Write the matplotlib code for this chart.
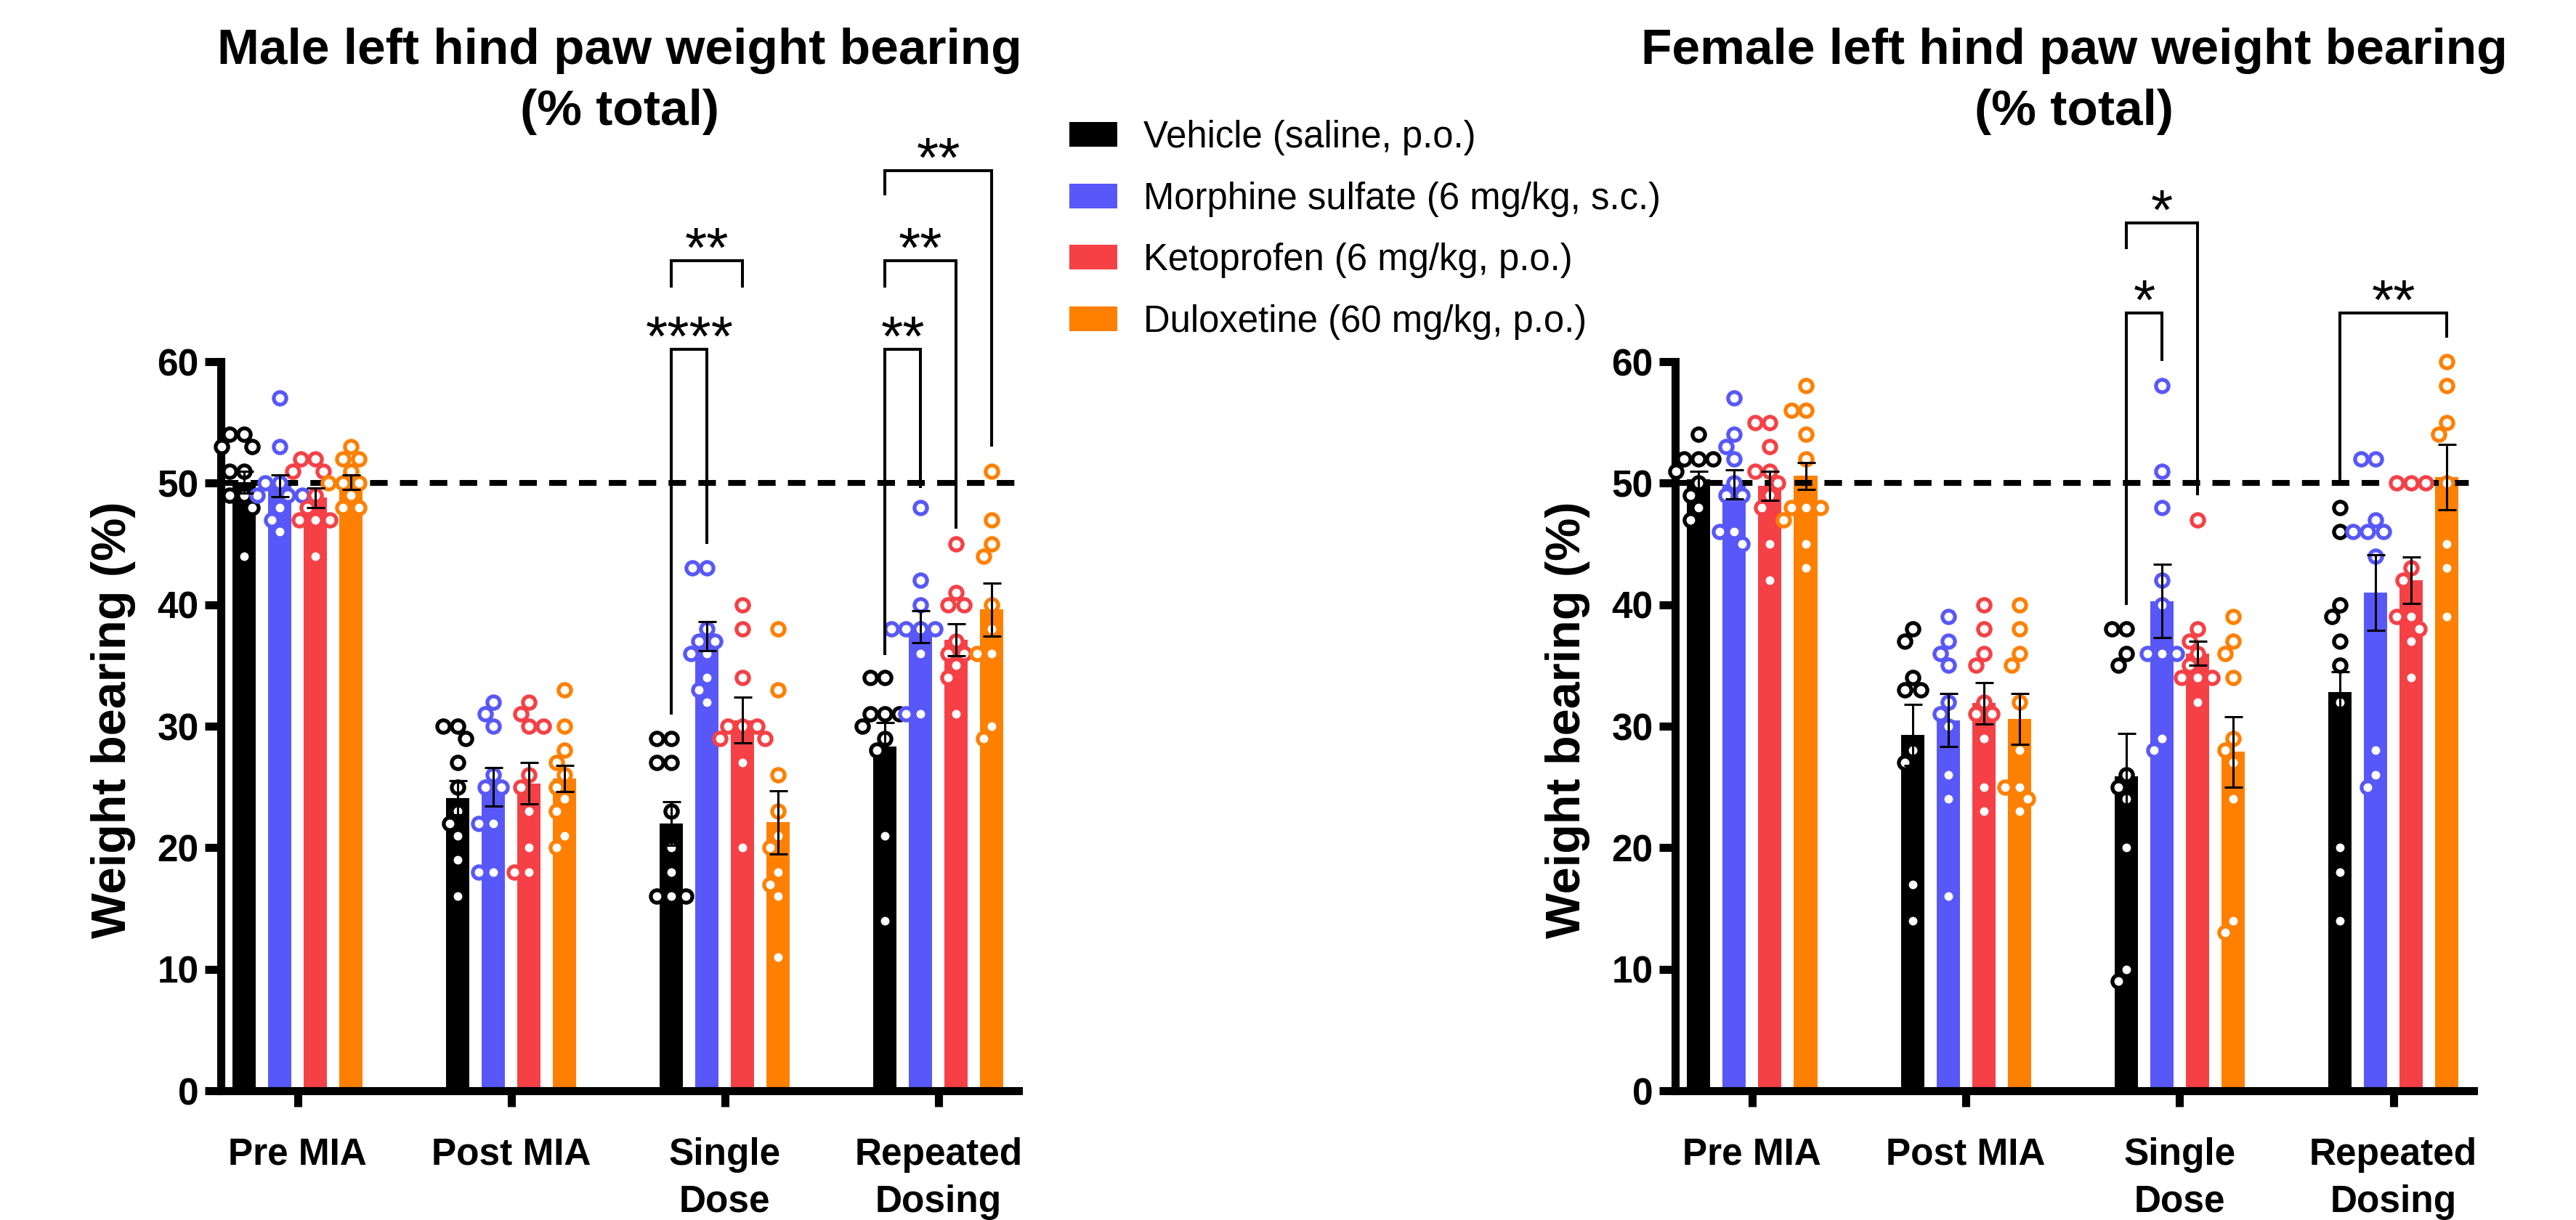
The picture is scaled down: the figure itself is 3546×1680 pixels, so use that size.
import numpy as np
import matplotlib
matplotlib.use("Agg")
import matplotlib.pyplot as plt
from matplotlib.patches import Patch

plt.rcParams['font.family'] = ['Liberation Sans', 'DejaVu Sans']

# ---------------- data ----------------
categories = ['Pre MIA', 'Post MIA', 'Single\nDose', 'Repeated\nDosing']
treatments = ['Vehicle (saline, p.o.)', 'Morphine sulfate (6 mg/kg, s.c.)',
              'Ketoprofen (6 mg/kg, p.o.)', 'Duloxetine (60 mg/kg, p.o.)']
yticks = [0, 10, 20, 30, 40, 50, 60]
baseline_pct = 50

# Male: means and SEM per treatment (rows) x timepoint (cols)
male_mean = [[50.1, 24.1, 22.0, 28.3],
             [49.8, 25.0, 37.4, 38.2],
             [48.8, 25.3, 30.5, 37.1],
             [50.1, 25.7, 22.1, 39.6]]
male_sem = [[0.9, 1.4, 1.8, 2.0],
            [0.9, 1.6, 1.2, 1.3],
            [0.8, 1.7, 1.9, 1.3],
            [0.6, 1.1, 2.6, 2.2]]
# individual animals, male
male_v_pts = [[54, 54, 53, 53, 51, 51, 49, 49, 48, 44],
              [30, 30, 29, 27, 25, 23, 22, 21, 19, 16],
              [29, 29, 27, 27, 23, 20, 18, 16, 16, 16],
              [34, 34, 31, 31, 31, 30, 29, 28, 21, 14]]
male_m_pts = [[57, 53, 50, 50, 49, 49, 49, 48, 47, 46],
              [32, 31, 30, 26, 25, 25, 22, 22, 18, 18],
              [43, 43, 38, 37, 37, 36, 36, 34, 33, 32],
              [48, 42, 40, 38, 38, 38, 38, 36, 31, 31]]
male_k_pts = [[52, 52, 51, 51, 49, 48, 47, 47, 47, 44],
              [32, 31, 30, 30, 26, 25, 23, 20, 18, 18],
              [40, 38, 34, 30, 30, 30, 29, 29, 27, 20],
              [45, 41, 40, 40, 37, 36, 36, 35, 34, 31]]
male_d_pts = [[53, 52, 52, 51, 50, 50, 50, 49, 48, 48],
              [33, 30, 28, 27, 26, 25, 24, 23, 21, 20],
              [38, 33, 26, 23, 21, 20, 18, 17, 16, 11],
              [51, 47, 45, 44, 40, 38, 36, 36, 30, 29]]

# Female
female_mean = [[50.3, 29.3, 25.9, 32.8],
               [49.9, 30.5, 40.3, 41.0],
               [49.8, 31.9, 36.0, 42.0],
               [50.6, 30.6, 27.9, 50.5]]
female_sem = [[0.7, 2.5, 3.5, 1.7],
              [1.2, 2.2, 3.0, 3.1],
              [1.2, 1.7, 1.0, 1.9],
              [1.1, 2.1, 2.9, 2.7]]
female_v_pts = [[54, 52, 52, 52, 51, 50, 49, 48, 47],
                [38, 37, 34, 33, 33, 28, 27, 17, 14],
                [38, 38, 36, 35, 26, 25, 24, 20, 10, 9],
                [48, 46, 40, 39, 37, 35, 32, 20, 18, 14]]
female_m_pts = [[57, 54, 53, 52, 50, 49, 49, 46, 46, 45],
                [39, 37, 36, 35, 32, 31, 30, 26, 24, 16],
                [58, 51, 48, 42, 40, 36, 36, 36, 29, 28],
                [52, 52, 47, 46, 46, 46, 44, 28, 26, 25]]
female_k_pts = [[55, 55, 53, 51, 51, 50, 49, 48, 45, 42],
                [40, 38, 36, 35, 32, 31, 31, 29, 25, 23],
                [47, 38, 37, 36, 35, 34, 34, 34, 32],
                [50, 50, 50, 43, 42, 39, 39, 38, 37, 34]]
female_d_pts = [[58, 56, 56, 54, 52, 48, 48, 48, 47, 45, 43],
                [40, 38, 36, 35, 32, 28, 25, 25, 24, 23],
                [39, 37, 36, 34, 29, 28, 27, 24, 14, 13],
                [60, 58, 55, 54, 50, 45, 43, 39]]

# significance brackets: (timepoint, treatment a, treatment b, bracket height,
#                         left leg end, right leg end, label)
male_sig = [(2, 0, 1, 61.0, 31.1, 45.1, '****'),
            (2, 0, 2, 68.3, 66.2, 66.2, '**'),
            (3, 0, 1, 61.0, 36.0, 49.7, '**'),
            (3, 0, 2, 68.3, 66.2, 46.4, '**'),
            (3, 0, 3, 75.7, 73.8, 53.1, '**')]
female_sig = [(2, 0, 1, 64.0, 40.1, 60.2, '*'),
              (2, 0, 2, 71.4, 69.4, 49.1, '*'),
              (3, 0, 3, 64.0, 50.1, 62.1, '**')]

male_title = 'Male left hind paw weight bearing\n(% total)'
female_title = 'Female left hind paw weight bearing\n(% total)'
ylabel = 'Weight bearing (%)'

# ---------------- style ----------------
COLORS = ['#000000', '#5858F8', '#F54146', '#FF8000']
W_PX, H_PX, DPI = 3546, 1680, 200
BAR_STEP = 0.1667
BAR_W = 0.109
SPINE_LW = 4.0

fig = plt.figure(figsize=(W_PX / DPI, H_PX / DPI), dpi=DPI)
ax_m = fig.add_axes([304 / W_PX, 1 - 1502 / H_PX, 1098 / W_PX, 1004 / H_PX])
ax_f = fig.add_axes([2306 / W_PX, 1 - 1502 / H_PX, 1099 / W_PX, 1004 / H_PX])


def swarm(vals, xpx, ypx, d_px=20.0):
    placed = []
    out = np.zeros(len(vals))
    order = sorted(range(len(vals)), key=lambda i: -vals[i])
    for i in order:
        y = vals[i] * ypx
        forb = []
        for px, py in placed:
            dy = abs(py - y)
            if dy < d_px:
                w = np.sqrt(d_px ** 2 - dy ** 2)
                forb.append((px - w, px + w))
        cands = [0.0] + [a for a, b in forb] + [b for a, b in forb]
        cands.sort(key=lambda c: (abs(c), c))
        chosen = 0.0
        for c in cands:
            if all(not (a + 1e-6 < c < b - 1e-6) for a, b in forb):
                chosen = c
                break
        placed.append((chosen, y))
        out[i] = chosen / xpx
    return out


def draw_panel(ax, means, sems, pts_list, sig, title):
    ax.set_xlim(-0.36, 3.375)
    ax.set_ylim(0, 60)
    fig.canvas.draw()
    bb = ax.get_window_extent()
    xpx = bb.width / (3.375 + 0.36)
    ypx = bb.height / 60.0
    x0 = np.arange(len(categories))
    for k in range(4):
        xs = x0 + (k - 1.5) * BAR_STEP
        ax.bar(xs, means[k], width=BAR_W, color=COLORS[k], zorder=1,
               edgecolor='none')
        for g in range(len(categories)):
            vals = pts_list[k][g]
            off = swarm(vals, xpx, ypx)
            ax.plot(xs[g] + off, vals, 'o', ms=6.2, mfc='white',
                    mec=COLORS[k], mew=1.9, zorder=3, clip_on=False)
        ax.errorbar(xs, means[k], yerr=sems[k], fmt='none', ecolor='black',
                    elinewidth=1.1, capsize=4.5, capthick=1.1, zorder=4)
    ax.axhline(baseline_pct, color='black', lw=2.9, ls=(0, (3.0, 2.1)),
               zorder=2)
    for g, a, b, h, la, lb, lab in sig:
        xa = g + (a - 1.5) * BAR_STEP
        xb = g + (b - 1.5) * BAR_STEP
        ax.plot([xa, xa, xb, xb], [la, h, h, lb], color='black', lw=1.45,
                clip_on=False, solid_joinstyle='miter', zorder=5)
        ax.text((xa + xb) / 2, h - 0.5, lab, ha='center', va='baseline',
                fontsize=28, clip_on=False)
    for s in ['top', 'right']:
        ax.spines[s].set_visible(False)
    for s in ['left', 'bottom']:
        ax.spines[s].set_linewidth(SPINE_LW)
        ax.spines[s].set_capstyle('projecting')
    ax.set_xticks(x0)
    ax.set_xticklabels(categories, fontsize=18.5, fontweight='bold',
                       linespacing=1.42)
    ax.set_yticks(yticks)
    ax.set_yticklabels([str(t) for t in yticks], fontsize=18.5,
                       fontweight='bold')
    ax.tick_params(axis='both', width=SPINE_LW, length=7.9, direction='out')
    ax.tick_params(axis='x', pad=15)
    ax.tick_params(axis='y', pad=3)
    ax.set_ylabel(ylabel, fontsize=24, fontweight='bold', va='center')
    ax.yaxis.set_label_coords(-0.135, 0.509)
    pos = ax.get_position()
    fig.text(pos.x0 + pos.width / 2, 1 - 112 / H_PX, title, ha='center',
             va='center', fontsize=25, fontweight='bold', linespacing=1.42)


male_pts = [male_v_pts, male_m_pts, male_k_pts, male_d_pts]
female_pts = [female_v_pts, female_m_pts, female_k_pts, female_d_pts]
draw_panel(ax_m, male_mean, male_sem, male_pts, male_sig, male_title)
draw_panel(ax_f, female_mean, female_sem, female_pts, female_sig, female_title)

handles = [Patch(facecolor=c, edgecolor='none') for c in COLORS]
fig.legend(handles, treatments, loc='upper left',
           bbox_to_anchor=(1472 / W_PX, 1 - 165 / H_PX), frameon=False,
           fontsize=18.3, handlelength=1.3, handleheight=0.65,
           handletextpad=0.7, labelspacing=0.70, borderpad=0,
           borderaxespad=0)

fig.savefig('out.png', dpi=DPI)
